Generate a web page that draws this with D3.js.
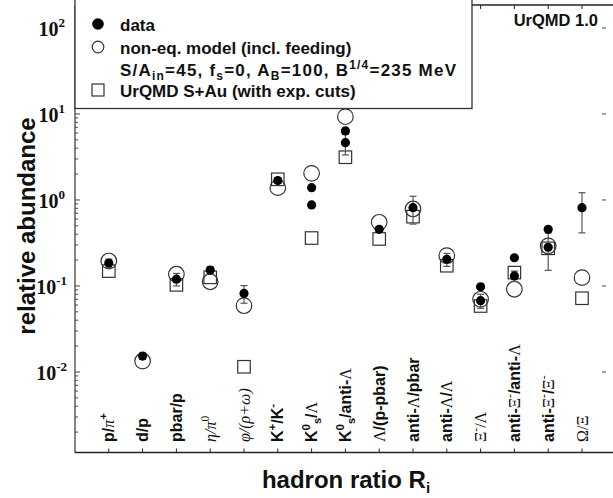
<!DOCTYPE html>
<html><head><meta charset="utf-8">
<script src="https://cdn.jsdelivr.net/npm/d3@7"></script>
<style>
html,body{margin:0;padding:0;background:#fff;}
svg{display:block;}
</style>
</head><body>
<script>
// ---------- data ----------
const categories = ["p/pi+","d/p","pbar/p","eta/pi0","phi/(rho+omega)","K+/K-","K0s/Lambda","K0s/anti-Lambda",
  "Lambda/(p-pbar)","anti-Lambda/pbar","anti-Lambda/Lambda","Xi-/Lambda","anti-Xi-/anti-Lambda","anti-Xi-/Xi-","Omega/Xi"];
// measured data (some ratios have two measurements)
const dataValues = [[0.185],[0.0153],[0.12],[0.153],[0.082],[1.68],[1.39,0.875],[6.35,4.64],
  [0.456],[0.814],[0.204],[0.098,0.0675],[0.213,0.131],[0.456,0.282],[0.814]];
const dataErrors = [[0.02],[0.0013],[0.02],[0.015],[0.019],[0.1],[0.06,0.05],[0.5,1.3],
  [0.03],[0.29],[0.035],[0.005,0.0125],[0.01,0.018],[0.02,0.13],[0.4]];
const modelValues = [0.195,0.0134,0.137,0.112,0.059,1.39,2.04,9.3,0.55,0.786,0.225,0.07,0.0916,0.292,0.125];
const urqmdValues = [0.149,null,0.103,0.126,0.0115,1.74,0.361,3.14,0.352,0.64,0.172,0.0585,0.143,0.274,0.072];
const yTickExponents = [2,1,0,-1,-2];

// label segments: [text, kind] kind: b=bold sans, g=greek serif, gi=greek italic, sup/sub variants
const G = "'Liberation Serif','DejaVu Serif',serif";
const S = "'Liberation Sans','DejaVu Sans',sans-serif";
const catLabels = [
  [["p/","b"],["π","gi"],["+","bsup"]],
  [["d/p","b"]],
  [["pbar/p","b"]],
  [["η/π","gi"],["0","gsup"]],
  [["φ/(ρ+ω)","gi"]],
  [["K","b"],["+","bsup"],["/K","b"],["-","bsup"]],
  [["K","b"],["0","bsup"],["s","bsub"],["/","b"],["Λ","g"]],
  [["K","b"],["0","bsup"],["s","bsub"],["/anti-","b"],["Λ","g"]],
  [["Λ","g"],["/(p-pbar)","b"]],
  [["anti-","b"],["Λ","g"],["/pbar","b"]],
  [["anti-","b"],["Λ","g"],["/","b"],["Λ","g"]],
  [["Ξ","g"],["-","gsup"],["/Λ","g"]],
  [["anti-","b"],["Ξ","g"],["-","gsup"],["/anti-","b"],["Λ","g"]],
  [["anti-","b"],["Ξ","g"],["-","gsup"],["/","b"],["Ξ","g"],["-","gsup"]],
  [["Ω/Ξ","g"]]
];

// ---------- layout ----------
const W = 613, H = 498;
const svg = d3.select("body").append("svg").attr("width",W).attr("height",H);
const x = d3.scaleLinear().domain([-1,15]).range([75,615.8]);
const y = d3.scaleLog().domain([Math.pow(10,-2.942),Math.pow(10,2.267)]).range([453,5]);
const axisColor = "#444";

// frame
svg.append("line").attr("x1",75).attr("x2",75).attr("y1",5).attr("y2",453).attr("stroke",axisColor).attr("stroke-width",1.3);
svg.append("line").attr("x1",75).attr("x2",W+5).attr("y1",452.5).attr("y2",452.5).attr("stroke","#222").attr("stroke-width",1.3);
svg.append("line").attr("x1",75).attr("x2",W+5).attr("y1",5).attr("y2",5).attr("stroke","#222").attr("stroke-width",1.3);

// y ticks: major & minor (log)
const yTicks = [];
for (let e=-3;e<=2;e++) for (let m=1;m<=9;m++){ const v=m*Math.pow(10,e); if (v>=y.domain()[0] && v<=y.domain()[1]) yTicks.push({v, major:m===1}); }
svg.selectAll(".ytick").data(yTicks).enter().append("line")
  .attr("x1",75).attr("x2",d=>d.major?80:78).attr("y1",d=>y(d.v)).attr("y2",d=>y(d.v))
  .attr("stroke",axisColor).attr("stroke-width",1);
// right side ticks
svg.selectAll(".ytickr").data(yTicks.filter(d=>d.major)).enter().append("line")
  .attr("x1",602).attr("x2",606).attr("y1",d=>y(d.v)).attr("y2",d=>y(d.v))
  .attr("stroke",axisColor).attr("stroke-width",1);

// x ticks bottom & top
const idx = d3.range(categories.length);
svg.selectAll(".xtb").data(idx).enter().append("line")
  .attr("x1",d=>x(d)).attr("x2",d=>x(d)).attr("y1",452).attr("y2",448.5).attr("stroke","#222");
svg.selectAll(".xtt").data(idx).enter().append("line")
  .attr("x1",d=>x(d)).attr("x2",d=>x(d)).attr("y1",5).attr("y2",9).attr("stroke","#222");

// y tick labels
const yl = svg.selectAll(".ylab").data(yTickExponents).enter().append("text")
  .attr("x",d=>d<0?67:65).attr("y",d=>y(Math.pow(10,d))+8)
  .attr("text-anchor","end").attr("font-family",G).attr("font-weight","bold").attr("font-size",20).attr("fill","#111");
yl.append("tspan").text("10");
yl.append("tspan").attr("dy",-9).attr("font-size",13).text(d=>String(d));

// axis titles
svg.append("text").attr("transform","translate(35,226) rotate(-90)").attr("text-anchor","middle")
  .attr("font-family",S).attr("font-weight","bold").attr("font-size",24).attr("fill","#111").text("relative abundance");
const xt = svg.append("text").attr("x",346).attr("y",488).attr("text-anchor","middle")
  .attr("font-family",S).attr("font-weight","bold").attr("font-size",24).attr("fill","#111");
xt.append("tspan").text("hadron ratio R");
xt.append("tspan").attr("dy",5).attr("font-size",15).text("i");

// category labels
catLabels.forEach((segs,i)=>{
  const t = svg.append("text").attr("transform",`translate(${x(i)+5.5},442) rotate(-90)`)
    .attr("font-size",16).attr("fill","#111");
  let shift = 0;
  segs.forEach(([txt,k])=>{
    const ts = t.append("tspan").text(txt);
    const isG = k[0]==="g";
    ts.attr("font-family", isG?G:S).attr("font-weight", isG?"normal":"bold");
    if (k==="gi") ts.attr("font-style","italic");
    let target = 0;
    if (k.endsWith("sup")) { target=-7; ts.attr("font-size",11.5); }
    else if (k.endsWith("sub")) { target=4; ts.attr("font-size",11); }
    if (target!==shift) { ts.attr("dy",target-shift); shift=target; }
  });
});

// ---------- marks ----------
// UrQMD squares
const sq = 12.5;
svg.selectAll(".sq").data(idx.filter(i=>urqmdValues[i]!=null)).enter().append("rect")
  .attr("x",i=>x(i)-sq/2).attr("y",i=>y(urqmdValues[i])-sq/2).attr("width",sq).attr("height",sq)
  .attr("fill","none").attr("stroke","#333").attr("stroke-width",1.2);
// model open circles
svg.selectAll(".oc").data(idx).enter().append("circle")
  .attr("cx",i=>x(i)).attr("cy",i=>y(modelValues[i])).attr("r",7.8)
  .attr("fill","none").attr("stroke","#333").attr("stroke-width",1.2);
// data points with error bars
const pts = [];
dataValues.forEach((vals,i)=>vals.forEach((v,j)=>pts.push({i,v,e:dataErrors[i][j]})));
const eb = svg.selectAll(".eb").data(pts).enter().append("g").attr("stroke","#555").attr("stroke-width",1.2);
eb.append("line").attr("x1",d=>x(d.i)).attr("x2",d=>x(d.i)).attr("y1",d=>y(d.v+d.e)).attr("y2",d=>y(Math.max(d.v-d.e,1e-4)));
eb.append("line").attr("x1",d=>x(d.i)-3.5).attr("x2",d=>x(d.i)+3.5).attr("y1",d=>y(d.v+d.e)).attr("y2",d=>y(d.v+d.e));
eb.append("line").attr("x1",d=>x(d.i)-3.5).attr("x2",d=>x(d.i)+3.5).attr("y1",d=>y(Math.max(d.v-d.e,1e-4))).attr("y2",d=>y(Math.max(d.v-d.e,1e-4)));
svg.selectAll(".dp").data(pts).enter().append("circle")
  .attr("cx",d=>x(d.i)).attr("cy",d=>y(d.v)).attr("r",4.6).attr("fill","#000");

// ---------- legend ----------
const lg = svg.append("g");
lg.append("rect").attr("x",75).attr("y",-1).attr("width",397).attr("height",109.5)
  .attr("fill","#fff").attr("stroke","#333").attr("stroke-width",1.3);
lg.append("circle").attr("cx",98).attr("cy",24).attr("r",5.8).attr("fill","#000");
lg.append("circle").attr("cx",98).attr("cy",47).attr("r",5.8).attr("fill","none").attr("stroke","#333").attr("stroke-width",1.2);
lg.append("rect").attr("x",92).attr("y",84).attr("width",12).attr("height",12).attr("fill","none").attr("stroke","#333").attr("stroke-width",1.2);
const lt = (yy)=>lg.append("text").attr("x",120).attr("y",yy).attr("font-family",S).attr("font-weight","bold").attr("font-size",17).attr("fill","#111");
lt(31).text("data");
lt(54).text("non-eq. model (incl. feeding)");
const l3 = lt(76).attr("textLength",336).attr("lengthAdjust","spacing");
[["S/A",0],["in",4],["=45, f",0],["s",4],["=0, A",0],["B",4],["=100, B",0],["1/4",-7],["=235 MeV",0]].reduce((prev,[t,o])=>{
  const ts = l3.append("tspan").text(t);
  if (o!==0) ts.attr("font-size",12);
  if (o!==prev) ts.attr("dy",o-prev);
  return o;
},0);
lt(97).text("UrQMD S+Au (with exp. cuts)");

svg.append("text").attr("x",598).attr("y",26).attr("text-anchor","end").attr("font-family",S)
  .attr("font-weight","bold").attr("font-size",16.5).attr("fill","#111").text("UrQMD 1.0");
</script>
</body></html>
